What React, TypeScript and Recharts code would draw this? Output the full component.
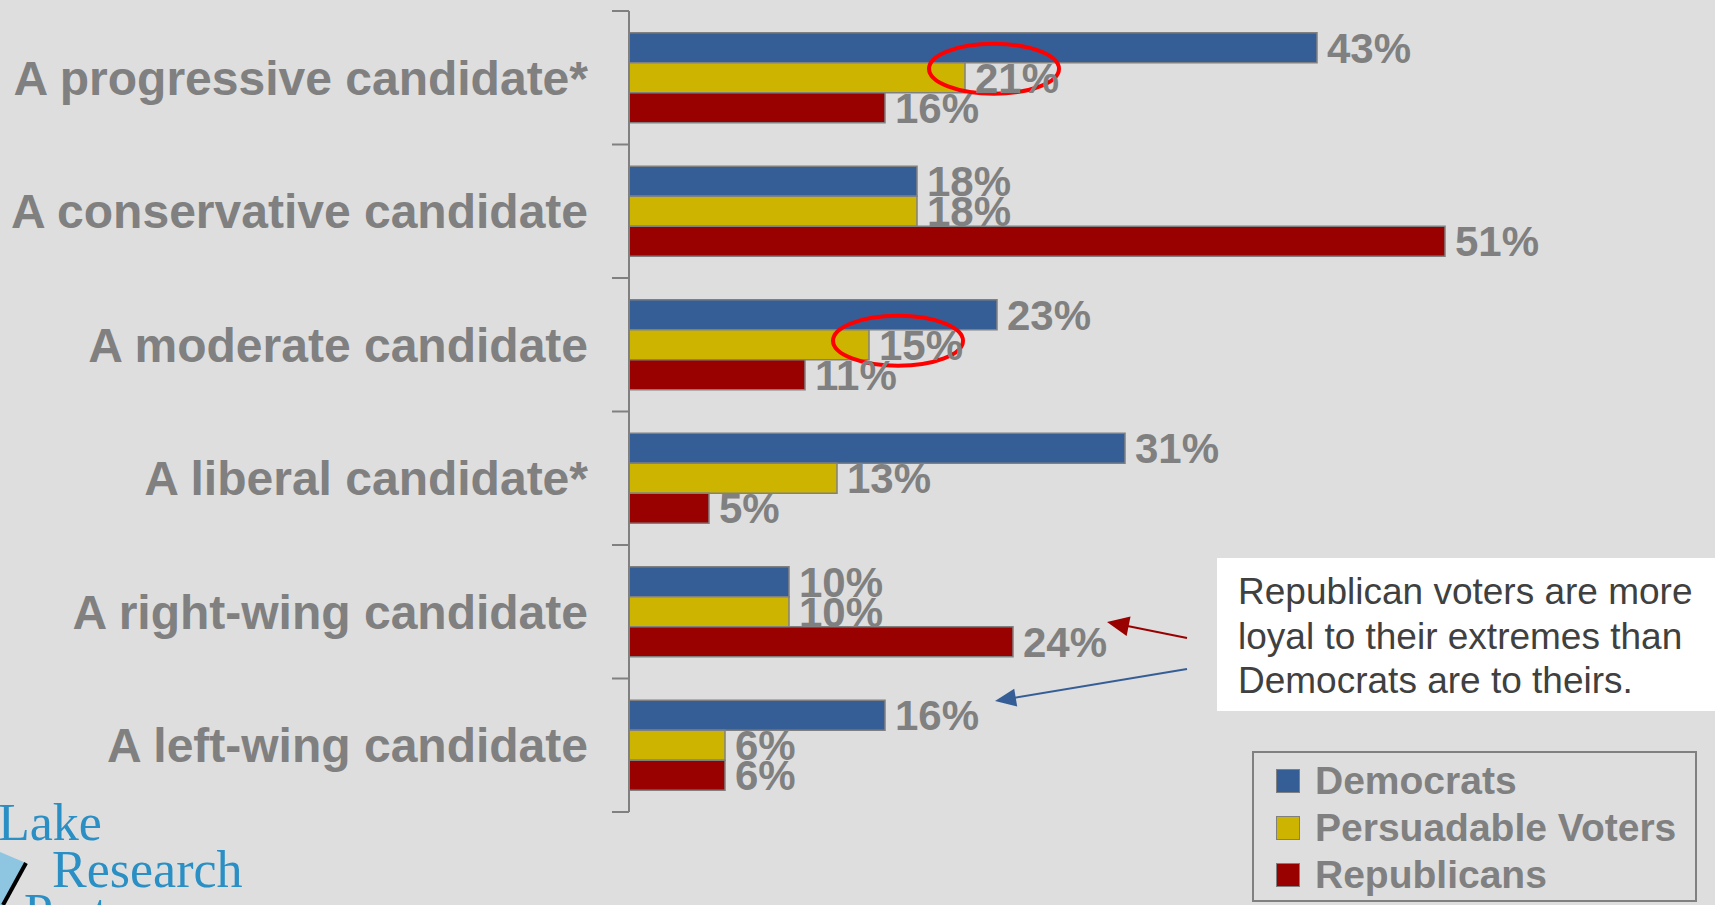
import React from "react"
import { BarChart, Bar, XAxis, YAxis, LabelList, Legend, ReferenceDot } from "recharts"

const categories = [
  "A progressive candidate*",
  "A conservative candidate",
  "A moderate candidate",
  "A liberal candidate*",
  "A right-wing candidate",
  "A left-wing candidate",
]
const democrats = [43, 18, 23, 31, 10, 16]
const persuadable = [21, 18, 15, 13, 10, 6]
const republicans = [16, 51, 11, 5, 24, 6]

// circled values on the persuadable bars
const circled = [
  { category: "A progressive candidate*", value: 21 },
  { category: "A moderate candidate", value: 15 },
]
const circleShift = [-9, -4]

const noteLines = [
  "Republican voters are more",
  "loyal to their extremes than",
  "Democrats are to theirs.",
]

const data = categories.map((name, i) => ({
  name,
  dem: democrats[i],
  pers: persuadable[i],
  rep: republicans[i],
}))

const W = 1715
const H = 905
const TOP = 11
const BOTTOM = 93
const BAND = (H - TOP - BOTTOM) / categories.length
const GRAY = "#808080"
const SANS = "'Liberation Sans', Arial, sans-serif"

const CategoryTick = (props: any) => {
  const { x, y, payload, index } = props
  const axisX = x + 41
  return (
    <g>
      <text
        x={x}
        y={y}
        dy="0.355em"
        textAnchor="end"
        fill={GRAY}
        fontSize={48}
        fontWeight="bold"
        fontFamily={SANS}
      >
        {payload.value}
      </text>
      <line x1={axisX - 17} x2={axisX} y1={y - BAND / 2} y2={y - BAND / 2} stroke={GRAY} strokeWidth={2} />
      {index === categories.length - 1 && (
        <line x1={axisX - 17} x2={axisX} y1={y + BAND / 2} y2={y + BAND / 2} stroke={GRAY} strokeWidth={2} />
      )}
    </g>
  )
}

const LegendBox = (props: any) => (
  <div
    style={{
      boxSizing: "border-box",
      width: 445,
      height: 151,
      border: `2px solid ${GRAY}`,
      padding: "4px 0 0 22px",
      fontFamily: SANS,
      fontWeight: "bold",
      fontSize: 39,
      color: GRAY,
    }}
  >
    {(props.payload || []).map((p: any) => (
      <div key={p.value} style={{ display: "flex", alignItems: "center", height: 47 }}>
        <span
          style={{
            display: "inline-block",
            boxSizing: "border-box",
            width: 24,
            height: 24,
            background: p.color,
            border: `1px solid ${GRAY}`,
            marginRight: 15,
          }}
        />
        <span style={{ whiteSpace: "nowrap" }}>{p.value}</span>
      </div>
    ))}
  </div>
)

const arrowHead = (tip: number[], tail: number[], len: number, half: number) => {
  const dx = tail[0] - tip[0]
  const dy = tail[1] - tip[1]
  const d = Math.hypot(dx, dy)
  const ux = dx / d
  const uy = dy / d
  const bx = tip[0] + ux * len
  const by = tip[1] + uy * len
  return `${tip[0]},${tip[1]} ${bx - uy * half},${by + ux * half} ${bx + uy * half},${by - ux * half}`
}

const barLabel = {
  position: "right" as const,
  offset: 10,
  fill: GRAY,
  fontSize: 42,
  fontWeight: "bold",
  fontFamily: SANS,
}

export default function App() {
  return (
    <div style={{ position: "absolute", left: 0, top: 0, width: W, height: H, background: "#dedede", overflow: "hidden" }}>
      <BarChart
        width={W}
        height={H}
        data={data}
        layout="vertical"
        margin={{ top: TOP, right: 126, bottom: BOTTOM, left: 0 }}
        barCategoryGap="16.3%"
        barGap={0}
      >
        <XAxis type="number" domain={[0, 60]} hide />
        <YAxis
          type="category"
          dataKey="name"
          width={629}
          axisLine={{ stroke: GRAY, strokeWidth: 2 }}
          tickLine={false}
          tickSize={17}
          tickMargin={24}
          interval={0}
          tick={CategoryTick}
        />
        <Legend
          layout="vertical"
          align="center"
          verticalAlign="middle"
          wrapperStyle={{ left: 1252, top: 751, width: 445, height: 151 }}
          content={LegendBox}
        />
        <Bar dataKey="dem" name="Democrats" fill="#365E96" stroke={GRAY} strokeWidth={1.5} isAnimationActive={false}>
          <LabelList dataKey="dem" formatter={(v: any) => `${v}%`} {...barLabel} />
        </Bar>
        <Bar dataKey="pers" name="Persuadable Voters" fill="#CCB400" stroke={GRAY} strokeWidth={1.5} isAnimationActive={false}>
          <LabelList dataKey="pers" formatter={(v: any) => `${v}%`} {...barLabel} />
        </Bar>
        <Bar dataKey="rep" name="Republicans" fill="#990000" stroke={GRAY} strokeWidth={1.5} isAnimationActive={false}>
          <LabelList dataKey="rep" formatter={(v: any) => `${v}%`} {...barLabel} />
        </Bar>
        {circled.map((c, i) => (
          <ReferenceDot
            key={c.category}
            x={c.value}
            y={c.category}
            r={10}
            shape={(p: any) => (
              <ellipse cx={p.cx + 29} cy={p.cy + circleShift[i]} rx={65} ry={25} fill="none" stroke="#ff0000" strokeWidth={4} />
            )}
          />
        ))}
      </BarChart>

      <svg width={W} height={H} style={{ position: "absolute", left: 0, top: 0, pointerEvents: "none" }}>
        <rect x={1217} y={558} width={498} height={153} fill="#ffffff" />
        {noteLines.map((t, i) => (
          <text key={t} x={1238} y={604 + i * 44.5} fontSize={37} fill="#404040" fontFamily={SANS}>
            {t}
          </text>
        ))}
        <line x1={1187} y1={638} x2={1120} y2={624.5} stroke="#990000" strokeWidth={2} />
        <polygon points={arrowHead([1107, 622], [1187, 638], 22, 10)} fill="#990000" />
        <line x1={1187} y1={669} x2={1010} y2={698.5} stroke="#365E96" strokeWidth={2} />
        <polygon points={arrowHead([995, 701], [1187, 669], 21, 9)} fill="#365E96" />

        <polygon points="0,852 26,863 3,905 0,905" fill="#8ec5e0" />
        <line x1={26} y1={863} x2={3} y2={905} stroke="#000000" strokeWidth={4} />
        <g fill="#2a8fc4" fontFamily="'Liberation Serif', 'Times New Roman', serif" fontSize={52}>
          <text x={-2} y={840}>Lake</text>
          <text x={52} y={887}>Research</text>
          <text x={24} y={930}>Partners</text>
        </g>
      </svg>
    </div>
  )
}
